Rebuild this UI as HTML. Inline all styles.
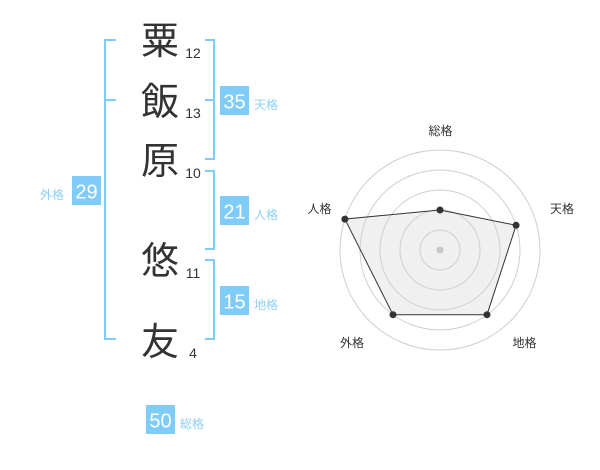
<!DOCTYPE html>
<html><head><meta charset="utf-8">
<style>
html,body{margin:0;padding:0;background:#fff;}
svg{display:block;}
.k{font-family:"Liberation Sans","Noto Sans CJK JP",sans-serif;fill:#333;font-size:38px;}
.n{font-family:"Liberation Sans",sans-serif;fill:#333;font-size:14px;}
.bn{font-family:"Liberation Sans",sans-serif;fill:#fff;font-size:20px;}
.lb{font-family:"Liberation Sans","Noto Sans CJK JP",sans-serif;fill:#8dcff5;font-size:12px;}
.rl{font-family:"Liberation Sans","Noto Sans CJK JP",sans-serif;fill:#333;font-size:12px;}
</style></head>
<body>
<svg width="600" height="470" viewBox="0 0 600 470" xmlns="http://www.w3.org/2000/svg">
<g fill="none" stroke="#80ccf8" stroke-width="2">
  <path d="M116,40 H105 V339 H116"/>
  <path d="M105,100 H116"/>
  <path d="M205,40 H214 V159 H205"/>
  <path d="M205,100 H214"/>
  <path d="M205,171 H214 V249 H205"/>
  <path d="M205,260 H214 V339 H205"/>
</g>
<text class="k" x="160" y="54" text-anchor="middle">粟</text>
<text class="k" x="160" y="115" text-anchor="middle">飯</text>
<text class="k" x="160" y="174" text-anchor="middle">原</text>
<text class="k" x="160" y="274" text-anchor="middle">悠</text>
<text class="k" x="160" y="355" text-anchor="middle">友</text>
<text class="n" x="193" y="58" text-anchor="middle">12</text>
<text class="n" x="193" y="118" text-anchor="middle">13</text>
<text class="n" x="193" y="178" text-anchor="middle">10</text>
<text class="n" x="193" y="278" text-anchor="middle">11</text>
<text class="n" x="193" y="358" text-anchor="middle">4</text>
<g fill="#80ccf8">
  <rect x="220" y="86" width="29" height="29"/>
  <rect x="220" y="196" width="29" height="29"/>
  <rect x="220" y="286" width="29" height="29"/>
  <rect x="72" y="176" width="29" height="29"/>
  <rect x="146" y="405" width="29" height="29"/>
</g>
<text class="bn" x="234.5" y="108.5" text-anchor="middle">35</text>
<text class="bn" x="234.5" y="218.5" text-anchor="middle">21</text>
<text class="bn" x="234.5" y="308.5" text-anchor="middle">15</text>
<text class="bn" x="86.5" y="198.5" text-anchor="middle">29</text>
<text class="bn" x="160.5" y="427.5" text-anchor="middle">50</text>
<text class="lb" x="254" y="109">天格</text>
<text class="lb" x="254" y="219">人格</text>
<text class="lb" x="254" y="309">地格</text>
<text class="lb" x="40" y="199">外格</text>
<text class="lb" x="180" y="428">総格</text>
<polygon points="440,210 516.1,225.3 487,314.7 393,314.7 344.9,219.1" fill="#f0f0f0" stroke="none"/>
<g fill="none" stroke="#cfcfcf" stroke-width="1">
  <circle cx="440" cy="250" r="20"/>
  <circle cx="440" cy="250" r="40"/>
  <circle cx="440" cy="250" r="60"/>
  <circle cx="440" cy="250" r="80"/>
  <circle cx="440" cy="250" r="100"/>
</g>
<circle cx="440" cy="250" r="3.5" fill="#c8c8c8"/>
<polygon points="440,210 516.1,225.3 487,314.7 393,314.7 344.9,219.1" fill="none" stroke="#333" stroke-width="1"/>
<g fill="#333">
  <circle cx="440" cy="210" r="3.5"/>
  <circle cx="516.1" cy="225.3" r="3.5"/>
  <circle cx="487" cy="314.7" r="3.5"/>
  <circle cx="393" cy="314.7" r="3.5"/>
  <circle cx="344.9" cy="219.1" r="3.5"/>
</g>
<text class="rl" x="440.5" y="135" text-anchor="middle">総格</text>
<text class="rl" x="562" y="213" text-anchor="middle">天格</text>
<text class="rl" x="319.5" y="213" text-anchor="middle">人格</text>
<text class="rl" x="524.5" y="347" text-anchor="middle">地格</text>
<text class="rl" x="352" y="347" text-anchor="middle">外格</text>
</svg>
</body></html>
